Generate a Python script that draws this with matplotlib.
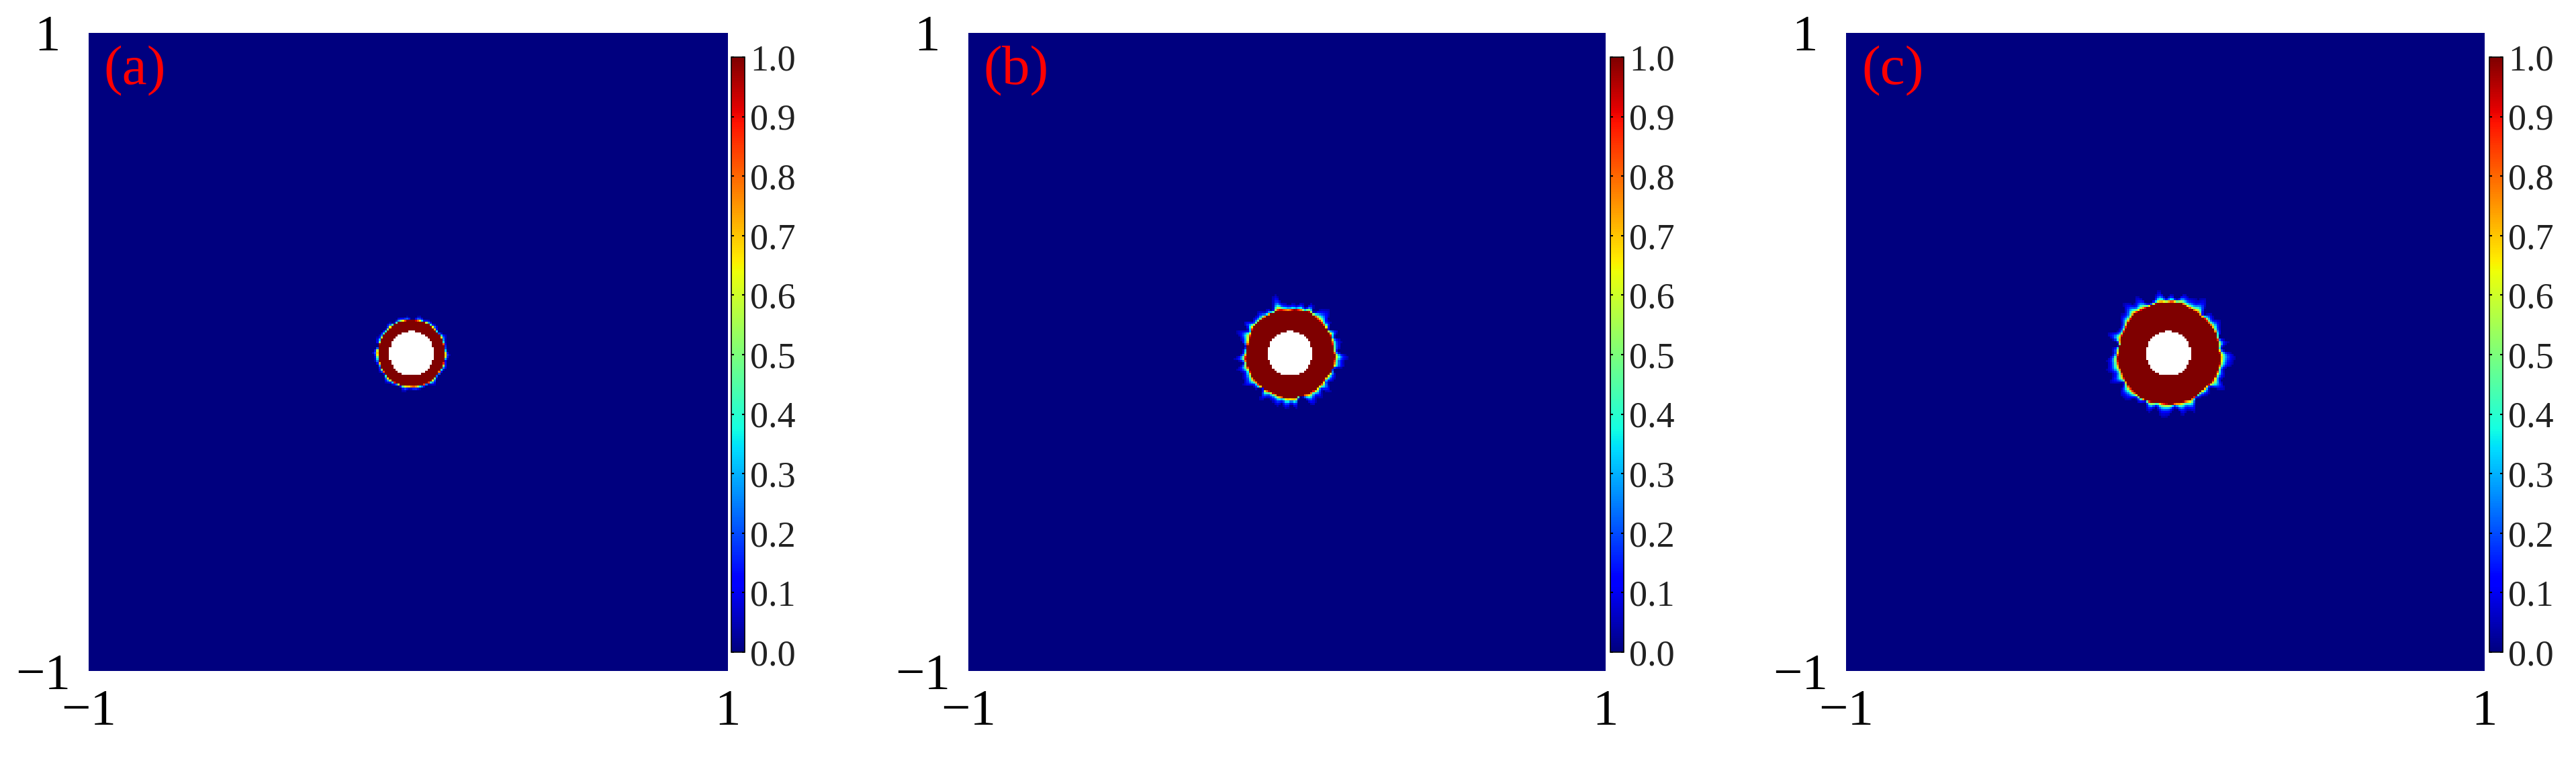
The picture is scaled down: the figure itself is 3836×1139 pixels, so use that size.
import numpy as np
import matplotlib.pyplot as plt
from matplotlib.transforms import ScaledTranslation

plt.rcParams['font.family'] = ['Liberation Serif', 'DejaVu Serif']

# panel data
panel_labels = ['(a)', '(b)', '(c)']
ring_center = (0.010, -0.006)
inner_radius = [0.070, 0.070, 0.070]
outer_radius = [0.104, 0.138, 0.159]
fringe_width = [0.0035, 0.0075, 0.0085]
# interface roughness: (mode, amplitude, phase)
edge_modes = [
    [(6, 0.0008, 0.3)],
    [(5, 0.0020, 1.0), (9, 0.0015, 2.1), (17, 0.0010, 0.4)],
    [(3, 0.0025, 0.7), (7, 0.0020, 2.5), (13, 0.0012, 1.2)],
]
# relative thickness variations of the diffuse fringe
spike_modes = [
    [(14, 0.30, 0.0), (22, 0.25, 1.3), (9, 0.2, 2.0)],
    [(7, 0.30, 0.2), (13, 0.30, 1.7), (19, 0.25, 2.9), (27, 0.25, 0.8), (36, 0.2, 2.4)],
    [(5, 0.30, 1.1), (11, 0.30, 0.5), (17, 0.25, 2.2), (24, 0.25, 1.4), (33, 0.2, 0.1)],
]
cbar_ticks = [0.0, 0.1, 0.2, 0.3, 0.4, 0.5, 0.6, 0.7, 0.8, 0.9, 1.0]
axis_ticks = [-1, 1]
axis_ticklabels = ['\u22121', '1']
n_grid = 300

# layout in figure fractions
ax_left = [0.0344, 0.3758, 0.7165]
ax_width = [0.2479, 0.2471, 0.2476]
cb_left = [0.2838, 0.6250, 0.9661]

fig = plt.figure(figsize=(3837 / 300, 1139 / 300), dpi=300)

cmap = plt.get_cmap('jet').copy()
cmap.set_bad('white')

edges = np.linspace(-1, 1, n_grid + 1)
mid = 0.5 * (edges[:-1] + edges[1:])
X, Y = np.meshgrid(mid, mid)
dx, dy = X - ring_center[0], Y - ring_center[1]
r = np.hypot(dx, dy)
th = np.arctan2(dy, dx)

for i in range(3):
    R = outer_radius[i] + sum(a * np.cos(k * th + p) for k, a, p in edge_modes[i])
    w = fringe_width[i] * (1 + sum(a * np.cos(k * th + p) for k, a, p in spike_modes[i]))
    w = np.clip(w, 1e-3, None)
    phi = np.where(r <= R, 1.0, np.exp(-(r - R) / w))
    phi[phi < 0.04] = 0.0
    phi = np.ma.masked_where(r < inner_radius[i], phi)

    ax = fig.add_axes([ax_left[i], 0.1229, ax_width[i], 0.8341])
    im = ax.imshow(phi, cmap=cmap, vmin=0, vmax=1, origin='lower',
                   extent=[-1, 1, -1, 1], interpolation='nearest', aspect='auto')
    ax.set_xticks(axis_ticks)
    ax.set_yticks(axis_ticks)
    ax.set_xticklabels(axis_ticklabels)
    ax.set_yticklabels(axis_ticklabels)
    ax.tick_params(length=0, labelsize=18.5, pad=6.5)
    for s in ax.spines.values():
        s.set_visible(False)
    # top y label sits a bit further left
    lab = ax.yaxis.get_majorticklabels()[1]
    lab.set_transform(lab.get_transform() + ScaledTranslation(-15 / 300, 0, fig.dpi_scale_trans))
    ax.text(0.024, 0.94, panel_labels[i], transform=ax.transAxes, color='red',
            fontsize=20, ha='left', va='center')

    cax = fig.add_axes([cb_left[i], 0.1475, 0.0052, 0.7779])
    cb = fig.colorbar(im, cax=cax, ticks=cbar_ticks, format='%.1f')
    cb.outline.set_linewidth(0.4)
    cax.tick_params(direction='in', length=1.0, width=0.5, left=True, right=True,
                    labelsize=13, pad=2, labelcolor='#222222')

fig.savefig('out.png', dpi=300)
